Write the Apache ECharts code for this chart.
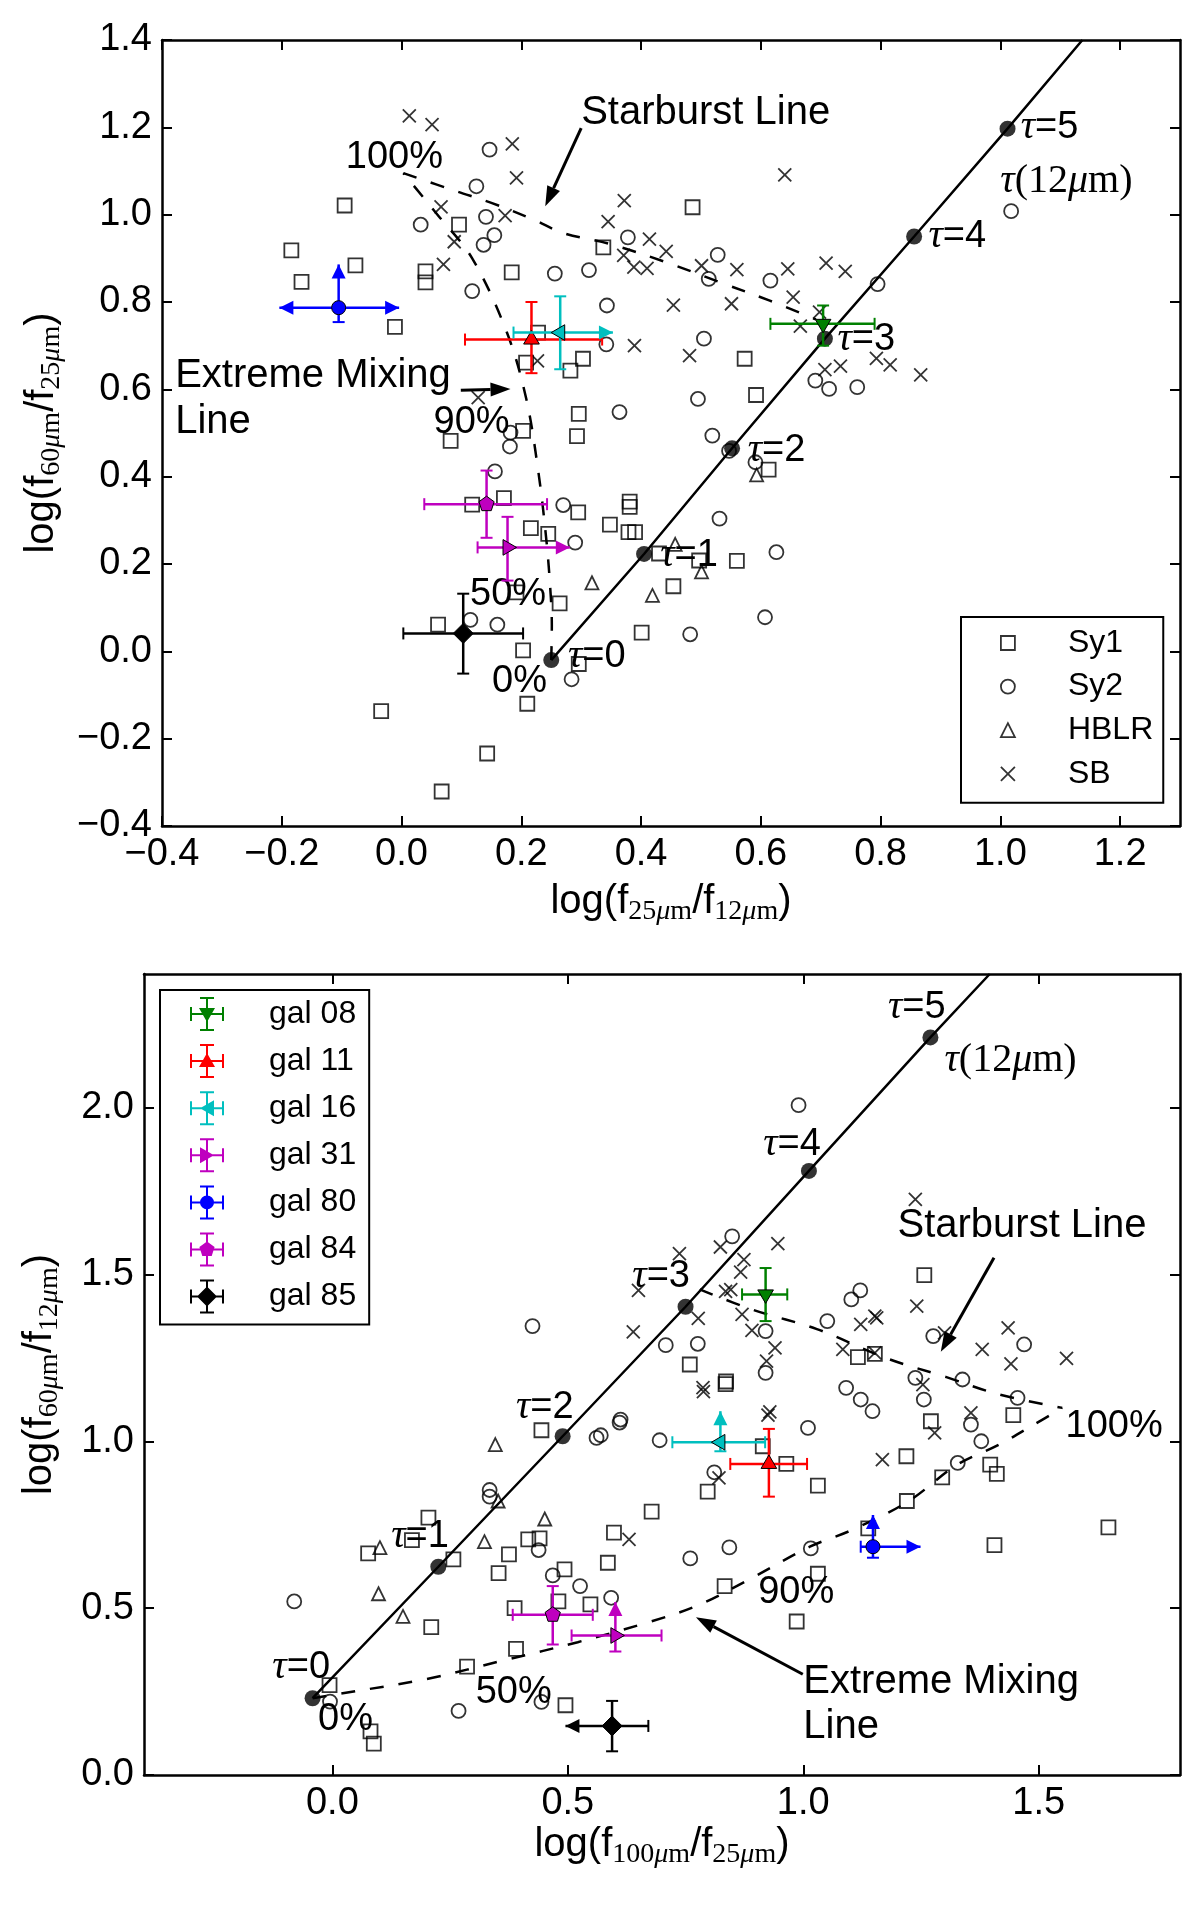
<!DOCTYPE html>
<html>
<head>
<meta charset="utf-8">
<script src="https://cdn.jsdelivr.net/npm/echarts@6/dist/echarts.min.js"></script>
<style>
  html, body { margin: 0; padding: 0; background: #fff; }
  #chart { width: 1200px; height: 1909px; }
</style>
</head>
<body>
<div id="chart"></div>
<script>
// ---------- values ----------
// upper panel: log(f25/f12) vs log(f60/f25)
const sy1Top = [[-0.095,1.021],[-0.184,0.918],[-0.167,0.846],[-0.077,0.884],[-0.011,0.743],[0.040,0.870],[0.040,0.845],
  [0.096,0.977],[0.184,0.868],[0.208,0.661],[0.228,0.730],[0.282,0.643],[0.303,0.670],[0.296,0.544],[0.293,0.493],
  [0.082,0.482],[0.203,0.505],[0.486,1.017],[0.337,0.925],[0.573,0.670],[0.592,0.587],[0.118,0.336],[0.171,0.351],
  [0.295,0.318],[0.216,0.282],[0.245,0.269],[0.348,0.290],[0.381,0.343],[0.381,0.331],[0.379,0.273],[0.390,0.273],
  [0.430,0.224],[0.454,0.149],[0.401,0.043],[0.203,0.002],[0.296,-0.029],[0.210,-0.120],[0.264,0.110],[0.192,0.135],
  [0.061,0.061],[-0.034,-0.137],[0.143,-0.234],[0.067,-0.321],[0.613,0.416],[0.560,0.207],[0.497,0.208]];
const sy2Top = [[0.147,1.149],[0.125,1.065],[0.032,0.977],[0.141,0.995],[0.155,0.953],[0.137,0.931],[0.118,0.825],
  [0.256,0.865],[0.313,0.873],[0.182,0.501],[0.181,0.469],[0.378,0.948],[0.528,0.908],[0.513,0.853],[0.616,0.849],
  [0.343,0.792],[0.795,0.841],[1.018,1.008],[0.505,0.716],[0.342,0.703],[0.691,0.620],[0.714,0.601],[0.761,0.605],
  [0.495,0.578],[0.364,0.548],[0.519,0.494],[0.156,0.412],[0.270,0.335],[0.290,0.249],[0.115,0.072],[0.160,0.061],
  [0.284,-0.064],[0.547,0.459],[0.591,0.433],[0.531,0.304],[0.626,0.227],[0.607,0.078],[0.482,0.039]];
const hblrTop = [[0.318,0.157],[0.419,0.128],[0.593,0.404],[0.457,0.245],[0.501,0.182]];
const sbTop = [[0.013,1.226],[0.051,1.206],[0.185,1.162],[0.192,1.084],[0.066,1.018],[0.173,0.998],[0.088,0.938],
  [0.070,0.886],[0.227,0.665],[0.128,0.581],[0.640,1.091],[0.372,1.032],[0.345,0.984],[0.414,0.944],[0.442,0.916],
  [0.371,0.907],[0.388,0.880],[0.410,0.877],[0.501,0.883],[0.560,0.874],[0.645,0.876],[0.709,0.889],[0.741,0.870],
  [0.454,0.793],[0.551,0.796],[0.654,0.811],[0.698,0.777],[0.666,0.745],[0.389,0.700],[0.481,0.677],[0.707,0.645],
  [0.733,0.653],[0.793,0.671],[0.816,0.656],[0.867,0.633]];
const tauTop = [[0.250,-0.020],[0.405,0.223],[0.552,0.465],[0.707,0.716],[0.856,0.950],[1.012,1.197]];
const tauTopEnd = [1.137, 1.400];
const mixTop = [[0.250,-0.020],[0.251,0.060],[0.249,0.131],[0.242,0.253],[0.228,0.416],[0.208,0.580],[0.176,0.730],
  [0.118,0.900],[0.060,1.000],[0.003,1.095]];
const sbLineTop = [[0.003,1.095],[0.093,1.053],[0.150,1.027],[0.220,0.989],[0.270,0.958],[0.347,0.933],[0.442,0.891],
  [0.532,0.845],[0.615,0.803],[0.692,0.760]];

// lower panel: log(f100/f25) vs log(f60/f12)
const sy1Bot = [[-0.006,0.269],[0.081,0.131],[0.088,0.094],[0.076,0.664],[0.204,0.771],[0.169,0.704],[0.257,0.646],
  [0.210,0.443],[0.286,0.325],[0.387,0.500],[0.390,0.378],[0.353,0.605],[0.375,0.661],[0.416,0.706],[0.440,0.709],
  [0.444,1.033],[0.480,0.520],[0.493,0.616],[0.548,0.511],[0.585,0.636],[0.598,0.726],[0.678,0.789],[0.495,0.209],
  [0.836,1.179],[0.914,0.985],[0.964,0.932],[0.797,0.849],[1.031,0.867],[1.219,0.955],[1.271,1.060],[1.446,1.078],
  [1.397,0.930],[1.411,0.902],[1.295,0.892],[1.220,0.821],[1.138,0.739],[1.648,0.742],[1.406,0.689],[1.031,0.603],
  [0.833,0.566],[0.986,0.460],[1.257,1.498],[1.116,1.252],[1.152,1.262],[0.759,1.230],[0.835,1.171]];
const sy2Bot = [[-0.081,0.520],[0.268,0.192],[0.334,0.854],[0.334,0.834],[0.438,0.674],[0.468,0.598],[0.526,0.566],
  [0.592,0.531],[0.561,1.010],[0.570,1.018],[0.612,1.065],[0.695,1.003],[0.444,0.219],[-0.005,0.220],[1.091,1.160],
  [1.122,1.125],[1.147,1.090],[1.010,1.040],[0.811,0.907],[0.760,0.649],[0.843,0.682],[1.016,0.679],[1.238,1.190],
  [1.256,1.125],[1.338,1.185],[1.455,1.130],[1.356,1.050],[1.378,1.000],[1.328,0.935],[1.051,1.360],[1.102,1.425],
  [1.121,1.452],[1.276,1.315],[1.469,1.290],[0.990,2.007],[0.425,1.345],[0.849,1.614],[0.708,1.288],[0.776,1.292],
  [0.920,1.330],[0.920,1.205],[0.610,1.056]];
const hblrBot = [[0.346,0.990],[0.101,0.681],[0.098,0.543],[0.150,0.475],[0.323,0.699],[0.352,0.821],[0.451,0.767]];
const sbBot = [[0.630,0.706],[0.787,1.161],[0.929,1.088],[0.821,0.890],[1.168,0.945],[1.279,1.025],[1.356,1.085],
  [1.254,1.170],[1.238,1.725],[1.241,1.405],[1.122,1.350],[1.152,1.375],[1.156,1.370],[1.084,1.275],[1.300,1.325],
  [1.435,1.340],[1.380,1.275],[1.441,1.232],[1.559,1.248],[1.152,1.265],[0.737,1.562],[0.650,1.452],[0.824,1.582],
  [0.946,1.592],[0.874,1.544],[0.867,1.507],[0.835,1.449],[0.846,1.454],[0.777,1.368],[0.639,1.328],[0.870,1.380],
  [0.891,1.332],[0.940,1.280],[0.922,1.240],[0.788,1.149],[0.925,1.078]];
const tauBot = [[-0.042,0.230],[0.225,0.624],[0.489,1.015],[0.750,1.403],[1.012,1.810],[1.270,2.210]];
const tauBotEnd = [1.396, 2.400];
const mixBot = [[-0.042,0.230],[0.022,0.245],[0.198,0.287],[0.374,0.347],[0.521,0.398],[0.672,0.458],[0.776,0.508],
  [0.888,0.588],[1.014,0.684],[1.103,0.734],[1.222,0.819],[1.327,0.930],[1.416,0.990],[1.490,1.050],[1.550,1.100]];
const sbLineBot = [[0.780,1.455],[0.895,1.393],[1.029,1.336],[1.178,1.248],[1.304,1.192],[1.416,1.140],[1.550,1.100]];

// the seven galaxies: [x, y, xlo, xhi, ylo, yhi] and limit arrows [xlo, xhi, ylo, yhi]
const galNames = ['gal 08', 'gal 11', 'gal 16', 'gal 31', 'gal 80', 'gal 84', 'gal 85'];
const galTop = [[0.704,0.750,0.616,0.790,0.700,0.792],[0.217,0.714,0.106,0.335,0.637,0.800],
  [0.265,0.730,0.187,0.353,0.646,0.813],[0.177,0.238,0.127,0.281,0.162,0.308],
  [-0.105,0.787,-0.204,-0.004,0.754,0.886],[0.142,0.337,0.038,0.243,0.260,0.414],
  [0.103,0.041,0.003,0.203,-0.051,0.132]];
const galTopLimits = [[0,0,0,0],[0,0,0,0],[0,1,0,0],[0,1,0,0],[1,1,0,1],[0,0,0,0],[0,0,0,0]];
const galBot = [[0.920,1.440,0.870,0.966,1.360,1.519],[0.927,0.932,0.845,1.008,0.834,1.037],
  [0.824,0.997,0.722,0.919,0.970,1.090],[0.601,0.418,0.508,0.699,0.370,0.518],
  [1.148,0.684,1.122,1.249,0.651,0.779],[0.468,0.480,0.383,0.553,0.391,0.566],
  [0.594,0.147,0.495,0.671,0.071,0.222]];
const galBotLimits = [[0,0,0,0],[0,0,0,0],[0,0,0,1],[0,0,0,1],[0,1,0,1],[0,0,0,0],[1,0,0,0]];

const topXTicks = [-0.4, -0.2, 0.0, 0.2, 0.4, 0.6, 0.8, 1.0, 1.2];
const topYTicks = [-0.4, -0.2, 0.0, 0.2, 0.4, 0.6, 0.8, 1.0, 1.2, 1.4];
const botXTicks = [0.0, 0.5, 1.0, 1.5];
const botYTicks = [0.0, 0.5, 1.0, 1.5, 2.0];

// ---------- styling ----------
const SANS = "'Liberation Sans', Arial, sans-serif";
const SERIF = "'Liberation Serif', 'DejaVu Serif', serif";
const galColors = ['#008000', '#ff0000', '#00bfbf', '#bf00bf', '#0000ff', '#bf00bf', '#000000'];
const galShapes = ['down', 'up', 'left', 'right', 'circle', 'pentagon', 'diamond'];
const CROSS = 'path://M0,0L10,10M10,0L0,10';

const NAME_RICH = {
  n: { fontFamily: SANS, fontSize: 40, lineHeight: 48, color: '#000' },
  s: { fontFamily: SERIF, fontSize: 28, lineHeight: 22, verticalAlign: 'bottom', color: '#000' },
  i: { fontFamily: SERIF, fontStyle: 'italic', fontSize: 28, lineHeight: 22, verticalAlign: 'bottom', color: '#000' }
};
const TEXT_RICH = { t: { fontFamily: SERIF, fontStyle: 'italic', fontSize: 40 } };

function fmtTick(v) {
  return (Math.abs(v) < 1e-9 ? 0 : v).toFixed(1).replace('-', '\u2212');
}

function xAx(g, min, max, ticks, pos, labels, name, gap) {
  return {
    type: 'value', gridIndex: g, position: pos, min: min, max: max,
    axisLine: { show: true, onZero: false, lineStyle: { color: '#000', width: 2.5 } },
    axisTick: { show: true, inside: true, length: 10, customValues: ticks, lineStyle: { color: '#000', width: 2 } },
    axisLabel: { show: labels, customValues: ticks, margin: 10, fontSize: 38, color: '#000', fontFamily: SANS, formatter: fmtTick },
    splitLine: { show: false },
    name: name || '', nameLocation: 'middle', nameGap: gap || 0,
    nameTextStyle: { rich: NAME_RICH }
  };
}
function yAx(g, min, max, ticks, pos, labels, name, gap) {
  const a = xAx(g, min, max, ticks, pos, labels, name, gap);
  a.nameRotate = 90;
  return a;
}

function hollow(name, data, symbol, size, ai) {
  return {
    type: 'scatter', name: name, xAxisIndex: ai, yAxisIndex: ai, data: data,
    symbol: symbol, symbolSize: size, z: 4, silent: true,
    itemStyle: { color: 'rgba(0,0,0,0)', borderColor: '#000', borderWidth: 1.8 }
  };
}

function markerShape(shape, c, col) {
  const x = c[0], y = c[1];
  const st = { fill: col, stroke: '#000', lineWidth: 1 };
  const poly = pts => ({ type: 'polygon', shape: { points: pts.map(p => [x + p[0], y + p[1]]) }, style: st });
  const r = 9;
  if (shape === 'down') return poly([[-0.87 * r, -0.5 * r], [0.87 * r, -0.5 * r], [0, r]]);
  if (shape === 'up') return poly([[-0.87 * r, 0.5 * r], [0.87 * r, 0.5 * r], [0, -r]]);
  if (shape === 'left') return poly([[0.5 * r, -0.87 * r], [0.5 * r, 0.87 * r], [-r, 0]]);
  if (shape === 'right') return poly([[-0.5 * r, -0.87 * r], [-0.5 * r, 0.87 * r], [r, 0]]);
  if (shape === 'circle') return { type: 'circle', shape: { cx: x, cy: y, r: 7 }, style: st };
  if (shape === 'pentagon') {
    const pts = [];
    for (let k = 0; k < 5; k++) {
      const a = (-90 + k * 72) * Math.PI / 180;
      pts.push([8 * Math.cos(a), 8 * Math.sin(a)]);
    }
    return poly(pts);
  }
  return poly([[0, -10], [10, 0], [0, 10], [-10, 0]]);
}

function galSeries(k, pt, lim, ai) {
  return {
    type: 'custom', name: galNames[k], xAxisIndex: ai, yAxisIndex: ai, z: 10, silent: true,
    data: [pt.concat(lim)],
    renderItem: function (params, api) {
      const v = api.value;
      const c = api.coord([v(0), v(1)]);
      const xl = api.coord([v(2), v(1)])[0], xh = api.coord([v(3), v(1)])[0];
      const yl = api.coord([v(0), v(4)])[1], yh = api.coord([v(0), v(5)])[1];
      const col = galColors[k];
      const ls = { stroke: col, lineWidth: 2.5 };
      const kids = [
        { type: 'line', shape: { x1: xl, y1: c[1], x2: xh, y2: c[1] }, style: ls },
        { type: 'line', shape: { x1: c[0], y1: yl, x2: c[0], y2: yh }, style: ls }
      ];
      const ends = [[xl, c[1], -1, 0], [xh, c[1], 1, 0], [c[0], yl, 0, 1], [c[0], yh, 0, -1]];
      ends.forEach(function (e, j) {
        if (v(6 + j)) {
          const L = 14, W = 7;
          const bx = e[0] - L * e[2], by = e[1] - L * e[3];
          kids.push({ type: 'polygon', shape: { points: [[e[0], e[1]], [bx - W * e[3], by + W * e[2]], [bx + W * e[3], by - W * e[2]]] },
            style: { fill: col } });
        } else {
          const h = 6;
          kids.push({ type: 'line', shape: e[2] ? { x1: e[0], y1: e[1] - h, x2: e[0], y2: e[1] + h } : { x1: e[0] - h, y1: e[1], x2: e[0] + h, y2: e[1] },
            style: { stroke: col, lineWidth: 2 } });
        }
      });
      kids.push(markerShape(galShapes[k], c, col));
      return { type: 'group', children: kids };
    }
  };
}

function textLayer(ai, items) {
  return {
    type: 'custom', xAxisIndex: ai, yAxisIndex: ai, z: 8, silent: true,
    data: items.map((it, i) => [it.at[0], it.at[1], i]),
    renderItem: function (params, api) {
      const it = items[api.value(2)];
      const p = api.coord([api.value(0), api.value(1)]);
      return {
        type: 'text', x: p[0], y: p[1],
        style: {
          text: it.text, fill: '#000', fontSize: it.size || 38, fontFamily: it.serif ? SERIF : SANS,
          align: it.align || 'center', verticalAlign: 'middle', lineHeight: it.lh, rich: TEXT_RICH
        }
      };
    }
  };
}

function arrowLayer(ai, arrows) {
  return {
    type: 'custom', xAxisIndex: ai, yAxisIndex: ai, z: 8, silent: true,
    data: arrows,
    renderItem: function (params, api) {
      const a = api.coord([api.value(0), api.value(1)]);
      const b = api.coord([api.value(2), api.value(3)]);
      const len = Math.hypot(b[0] - a[0], b[1] - a[1]);
      const ux = (b[0] - a[0]) / len, uy = (b[1] - a[1]) / len;
      const L = 20, W = 7;
      const bx = b[0] - L * ux, by = b[1] - L * uy;
      return { type: 'group', children: [
        { type: 'line', shape: { x1: a[0], y1: a[1], x2: bx, y2: by }, style: { stroke: '#000', lineWidth: 3 } },
        { type: 'polygon', shape: { points: [[b[0], b[1]], [bx - W * uy, by + W * ux], [bx + W * uy, by - W * ux]] }, style: { fill: '#000' } }
      ] };
    }
  };
}

function curve(data, ai, dashed) {
  return {
    type: 'line', xAxisIndex: ai, yAxisIndex: ai, data: data, symbol: 'none', smooth: dashed ? 0.35 : false,
    silent: true, z: 3, lineStyle: { color: '#000', width: 2.5, type: dashed ? [14, 15] : 'solid' }
  };
}
function tauDots(data, ai) {
  return { type: 'scatter', xAxisIndex: ai, yAxisIndex: ai, data: data, symbol: 'circle', symbolSize: 16,
    itemStyle: { color: '#000' }, z: 6, silent: true };
}

// annotation placement (layout only)
const topNotes = [
  { at: [-0.012, 1.130], text: '100%' },
  { at: [0.117, 0.525], text: '90%' },
  { at: [0.178, 0.130], text: '50%' },
  { at: [0.197, -0.070], text: '0%' },
  { at: [0.278, -0.012], text: '{t|\u03c4}=0', align: 'left' },
  { at: [0.432, 0.220], text: '{t|\u03c4}=1', align: 'left' },
  { at: [0.578, 0.460], text: '{t|\u03c4}=2', align: 'left' },
  { at: [0.728, 0.715], text: '{t|\u03c4}=3', align: 'left' },
  { at: [0.880, 0.950], text: '{t|\u03c4}=4', align: 'left' },
  { at: [1.034, 1.200], text: '{t|\u03c4}=5', align: 'left' },
  { at: [1.000, 1.075], text: '{t|\u03c4}(12{t|\u03bc}m)', align: 'left', serif: true, size: 40 },
  { at: [0.300, 1.232], text: 'Starburst Line', align: 'left', size: 40 },
  { at: [-0.378, 0.578], text: 'Extreme Mixing\nLine', align: 'left', size: 40, lh: 46 }
];
const botNotes = [
  { at: [1.557, 1.045], text: '100%', align: 'left' },
  { at: [0.985, 0.548], text: '90%' },
  { at: [0.385, 0.247], text: '50%' },
  { at: [0.028, 0.166], text: '0%' },
  { at: [-0.005, 0.322], text: '{t|\u03c4}=0', align: 'right' },
  { at: [0.125, 0.715], text: '{t|\u03c4}=1', align: 'left' },
  { at: [0.390, 1.100], text: '{t|\u03c4}=2', align: 'left' },
  { at: [0.637, 1.495], text: '{t|\u03c4}=3', align: 'left' },
  { at: [0.915, 1.890], text: '{t|\u03c4}=4', align: 'left' },
  { at: [1.180, 2.300], text: '{t|\u03c4}=5', align: 'left' },
  { at: [1.300, 2.140], text: '{t|\u03c4}(12{t|\u03bc}m)', align: 'left', serif: true, size: 40 },
  { at: [1.200, 1.645], text: 'Starburst Line', align: 'left', size: 40 },
  { at: [1.000, 0.210], text: 'Extreme Mixing\nLine', align: 'left', size: 40, lh: 45 }
];
const topArrows = [[0.300, 1.198, 0.240, 1.019], [0.099, 0.598, 0.182, 0.601]];
const botArrows = [[1.405, 1.550, 1.292, 1.268], [0.999, 0.302, 0.772, 0.473]];

// legend icons for the galaxies: error bar cross with caps plus marker
const BAR_ICON = 'M0,16h34v2h-34z M16,0h2v34h-2z M0,10h2v14h-2z M32,10h2v14h-2z M10,0h14v2h-14z M10,32h14v2h-14z ';
const galIconMarks = [
  'M9,11L25,11L17,25Z',
  'M17,9L25,23L9,23Z',
  'M24,9L24,25L10,17Z',
  'M10,9L24,17L10,25Z',
  'M10,17A7,7,0,1,1,24,17A7,7,0,1,1,10,17Z',
  'M17,9L24.6,14.5L21.7,23.5L12.3,23.5L9.4,14.5Z',
  'M17,7L27,17L17,27L7,17Z'
];

const topXName = '{n|log(f}{s|25}{i|\u03bc}{s|m}{n|/f}{s|12}{i|\u03bc}{s|m}{n|)}';
const topYName = '{n|log(f}{s|60}{i|\u03bc}{s|m}{n|/f}{s|25}{i|\u03bc}{s|m}{n|)}';
const botXName = '{n|log(f}{s|100}{i|\u03bc}{s|m}{n|/f}{s|25}{i|\u03bc}{s|m}{n|)}';
const botYName = '{n|log(f}{s|60}{i|\u03bc}{s|m}{n|/f}{s|12}{i|\u03bc}{s|m}{n|)}';

const series = [
  curve(mixTop, 0, true), curve(sbLineTop, 0, true), curve(tauTop.concat([tauTopEnd]), 0, false),
  hollow('Sy1', sy1Top, 'rect', 14, 0), hollow('Sy2', sy2Top, 'circle', 14, 0),
  hollow('HBLR', hblrTop, 'triangle', 13, 0), hollow('SB', sbTop, CROSS, 13, 0),
  tauDots(tauTop, 0), textLayer(0, topNotes), arrowLayer(0, topArrows),
  curve(mixBot, 2, true), curve(sbLineBot, 2, true), curve(tauBot.concat([tauBotEnd]), 2, false),
  hollow('Sy1', sy1Bot, 'rect', 14, 2), hollow('Sy2', sy2Bot, 'circle', 14, 2),
  hollow('HBLR', hblrBot, 'triangle', 13, 2), hollow('SB', sbBot, CROSS, 13, 2),
  tauDots(tauBot, 2), textLayer(2, botNotes), arrowLayer(2, botArrows)
];
galNames.forEach(function (n, k) {
  series.push(galSeries(k, galTop[k], galTopLimits[k], 0));
  series.push(galSeries(k, galBot[k], galBotLimits[k], 2));
});

const option = {
  animation: false,
  backgroundColor: '#fff',
  textStyle: { fontFamily: SANS },
  grid: [
    { left: 162, right: 20, top: 40, height: 786 },
    { left: 144, right: 20, top: 974, height: 801 }
  ],
  xAxis: [
    xAx(0, -0.4, 1.3, topXTicks, 'bottom', true, topXName, 52),
    xAx(0, -0.4, 1.3, topXTicks, 'top', false),
    xAx(1, -0.4, 1.8, botXTicks, 'bottom', true, botXName, 46),
    xAx(1, -0.4, 1.8, botXTicks, 'top', false)
  ],
  yAxis: [
    yAx(0, -0.4, 1.4, topYTicks, 'left', true, topYName, 96),
    yAx(0, -0.4, 1.4, topYTicks, 'right', false),
    yAx(1, 0, 2.4, botYTicks, 'left', true, botYName, 80),
    yAx(1, 0, 2.4, botYTicks, 'right', false)
  ],
  legend: [
    {
      left: 961, top: 617, orient: 'vertical', selectedMode: false,
      padding: [10, 10, 13, 39], itemGap: 11.6, itemWidth: 14, itemHeight: 14,
      borderColor: '#000', borderWidth: 2, backgroundColor: '#fff',
      itemStyle: { color: 'rgba(0,0,0,0)', borderColor: '#000', borderWidth: 1.8 },
      formatter: name => '{p|' + name + '}',
      textStyle: { color: '#000', fontSize: 32, fontFamily: SANS,
        rich: { p: { padding: [0, 0, 0, 48], fontSize: 32, lineHeight: 34, fontFamily: SANS, color: '#000' } } },
      data: [
        { name: 'Sy1', icon: 'rect' },
        { name: 'Sy2', icon: 'circle' },
        { name: 'HBLR', icon: 'triangle' },
        { name: 'SB', icon: CROSS }
      ]
    },
    {
      left: 160, top: 990, orient: 'vertical', selectedMode: false,
      padding: [7, 13, 11, 30], itemGap: 13.1, itemWidth: 34, itemHeight: 34,
      borderColor: '#000', borderWidth: 2, backgroundColor: '#fff',
      itemStyle: { borderWidth: 0 },
      formatter: name => '{p|' + name + '}',
      textStyle: { color: '#000', fontSize: 32, fontFamily: SANS,
        rich: { p: { padding: [0, 0, 0, 40], fontSize: 32, lineHeight: 34, fontFamily: SANS, color: '#000' } } },
      data: galNames.map((n, k) => ({ name: n, icon: 'path://' + BAR_ICON + galIconMarks[k], itemStyle: { color: galColors[k] } }))
    }
  ],
  series: series
};

const chart = echarts.init(document.getElementById('chart'));
chart.setOption(option);
</script>
</body>
</html>
